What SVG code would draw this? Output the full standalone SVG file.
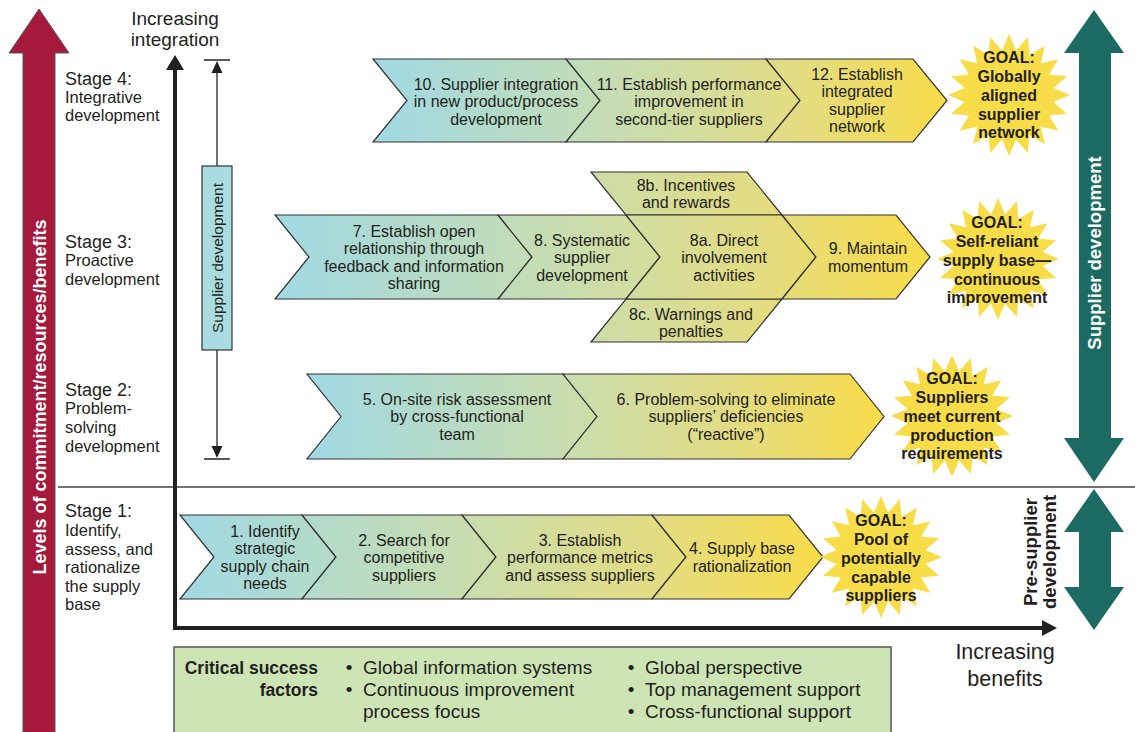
<svg xmlns="http://www.w3.org/2000/svg" width="1135" height="732" viewBox="0 0 1135 732">
<style>
.t{font-family:"Liberation Sans",Arial,sans-serif;font-size:16px;fill:#231F20;text-anchor:middle}
.st{font-family:"Liberation Sans",Arial,sans-serif;font-size:18px;fill:#231F20}
.sl{font-family:"Liberation Sans",Arial,sans-serif;font-size:16.5px;fill:#231F20}
.g{font-family:"Liberation Sans",Arial,sans-serif;font-size:16px;font-weight:bold;fill:#231F20;text-anchor:middle}
.chev{stroke:#333;stroke-width:1.2;stroke-linejoin:miter}
.csf{font-family:"Liberation Sans",Arial,sans-serif;font-size:19px;fill:#231F20}
.csb{font-family:"Liberation Sans",Arial,sans-serif;font-size:17.5px;font-weight:bold;fill:#231F20;text-anchor:end}
.ax{fill:none;stroke:#231F20;stroke-width:4}
.thin{stroke:#444;stroke-width:1.5;fill:none}
.star{fill:#F8DC48}
</style>
<defs>
<linearGradient id="gb">
<stop offset="0" stop-color="#A0D9E4"/>
<stop offset="0.45" stop-color="#C9DDAE"/>
<stop offset="0.75" stop-color="#E4DC80"/>
<stop offset="1" stop-color="#F9DC48"/>
</linearGradient>
<linearGradient id="g4" href="#gb" gradientUnits="userSpaceOnUse" x1="373" y1="0" x2="947" y2="0"/>
<linearGradient id="g3" href="#gb" gradientUnits="userSpaceOnUse" x1="275" y1="0" x2="930" y2="0"/>
<linearGradient id="g2" href="#gb" gradientUnits="userSpaceOnUse" x1="307" y1="0" x2="884" y2="0"/>
<linearGradient id="g1" href="#gb" gradientUnits="userSpaceOnUse" x1="180" y1="0" x2="823" y2="0"/>
<polygon id="starShape" points="61,0 44.45,7.04 58.02,18.85 40.1,20.43 49.35,35.86 31.82,31.82 35.86,49.35 20.43,40.1 18.85,58.02 7.04,44.45 0,61 -7.04,44.45 -18.85,58.02 -20.43,40.1 -35.86,49.35 -31.82,31.82 -49.35,35.86 -40.1,20.43 -58.02,18.85 -44.45,7.04 -61,0 -44.45,-7.04 -58.02,-18.85 -40.1,-20.43 -49.35,-35.86 -31.82,-31.82 -35.86,-49.35 -20.43,-40.1 -18.85,-58.02 -7.04,-44.45 0,-61 7.04,-44.45 18.85,-58.02 20.43,-40.1 35.86,-49.35 31.82,-31.82 49.35,-35.86 40.1,-20.43 58.02,-18.85 44.45,-7.04"/>
</defs>

<!-- Left red arrow -->
<g id="commitment-arrow">
<polygon points="39,9 69,53 55,53 55,740 23,740 23,53 9,53" fill="#A5193C" stroke="#555" stroke-width="1"/>
<text transform="translate(45.5,397) rotate(-90)" font-family="Liberation Sans,Arial,sans-serif" font-size="18" font-weight="bold" fill="#FFFFFF" text-anchor="middle">Levels of commitment/resources/benefits</text>
</g>

<!-- Right green arrows -->
<g id="supplier-development-arrow">
<polygon points="1094,10 1124,53 1111,53 1111,438 1124,438 1094,482 1064,438 1079,438 1079,53 1064,53" fill="#1B6B63"/>
<text transform="translate(1101,253) rotate(-90)" font-family="Liberation Sans,Arial,sans-serif" font-size="18.5" font-weight="bold" fill="#FFFFFF" text-anchor="middle">Supplier development</text>
</g>
<g id="pre-supplier-arrow">
<polygon points="1094,489 1124,532 1111,532 1111,587 1124,587 1094,630 1064,587 1079,587 1079,532 1064,532" fill="#1B6B63"/>
<text transform="translate(1037,552) rotate(-90)" font-family="Liberation Sans,Arial,sans-serif" font-size="18.5" font-weight="bold" fill="#231F20" text-anchor="middle">Pre-supplier</text>
<text transform="translate(1056,552) rotate(-90)" font-family="Liberation Sans,Arial,sans-serif" font-size="18.5" font-weight="bold" fill="#231F20" text-anchor="middle">development</text>
</g>

<!-- Stage labels -->
<g id="stage-labels">
<text class="st" x="65" y="85">Stage 4:</text>
<text class="sl" x="65" y="103">Integrative</text>
<text class="sl" x="65" y="121">development</text>
<text class="st" x="65" y="248">Stage 3:</text>
<text class="sl" x="65" y="266">Proactive</text>
<text class="sl" x="65" y="285">development</text>
<text class="st" x="65" y="396">Stage 2:</text>
<text class="sl" x="65" y="414">Problem-</text>
<text class="sl" x="65" y="433">solving</text>
<text class="sl" x="65" y="452">development</text>
<text class="st" x="65" y="517">Stage 1:</text>
<text class="sl" x="65" y="536">Identify,</text>
<text class="sl" x="65" y="555">assess, and</text>
<text class="sl" x="65" y="573">rationalize</text>
<text class="sl" x="65" y="592">the supply</text>
<text class="sl" x="65" y="610">base</text>
</g>

<g id="axis-labels">
<text x="175" y="25" font-family="Liberation Sans,Arial,sans-serif" font-size="19" fill="#231F20" text-anchor="middle">Increasing</text>
<text x="175" y="46" font-family="Liberation Sans,Arial,sans-serif" font-size="19" fill="#231F20" text-anchor="middle">integration</text>
<text x="1005" y="659" font-family="Liberation Sans,Arial,sans-serif" font-size="21.5" fill="#231F20" text-anchor="middle">Increasing</text>
<text x="1005" y="686" font-family="Liberation Sans,Arial,sans-serif" font-size="21.5" fill="#231F20" text-anchor="middle">benefits</text>
</g>

<!-- Connectors -->
<g id="connectors">
<line class="thin" x1="58" y1="487" x2="1135" y2="487"/>
<path class="ax" d="M175,68 V628 H1043"/>
<polygon points="175,55 166,70 184,70" fill="#231F20"/>
<polygon points="1057,628 1042,620 1042,636" fill="#231F20"/>
<line x1="217" y1="72" x2="217" y2="166" stroke="#444" stroke-width="1.5"/>
<polygon points="217,61 211.5,73 222.5,73" fill="#231F20"/>
<line x1="204" y1="60" x2="230" y2="60" stroke="#231F20" stroke-width="1.5"/>
<line x1="217" y1="350" x2="217" y2="447" stroke="#444" stroke-width="1.5"/>
<polygon points="217,458 211.5,446 222.5,446" fill="#231F20"/>
<line x1="204" y1="459" x2="230" y2="459" stroke="#231F20" stroke-width="1.5"/>
</g>

<g id="supplier-development-box">
<rect x="202" y="166" width="30" height="184" fill="#A8DCE0" stroke="#333" stroke-width="1.2"/>
<text transform="translate(222.5,258) rotate(-90)" font-family="Liberation Sans,Arial,sans-serif" font-size="15.5" fill="#231F20" text-anchor="middle">Supplier development</text>
</g>

<!-- Stage 4 -->
<g id="step10">
<polygon class="chev" fill="url(#g4)" points="373,59 566,59 600,100.5 566,142 373,142 407,100.5"/>
<text class="t" x="496" y="89.5">10. Supplier integration</text>
<text class="t" x="496" y="107">in new product/process</text>
<text class="t" x="496" y="124.5">development</text>
</g>
<g id="step11">
<polygon class="chev" fill="url(#g4)" points="566,59 766,59 800,100.5 766,142 566,142 600,100.5"/>
<text class="t" x="689" y="89.5">11. Establish performance</text>
<text class="t" x="689" y="107">improvement in</text>
<text class="t" x="689" y="124.5">second-tier suppliers</text>
</g>
<g id="step12">
<polygon class="chev" fill="url(#g4)" points="766,59 913,59 947,100.5 913,142 766,142 800,100.5"/>
<text class="t" x="857" y="79.5">12. Establish</text>
<text class="t" x="857" y="97">integrated</text>
<text class="t" x="857" y="114.5">supplier</text>
<text class="t" x="857" y="132">network</text>
</g>

<!-- Stage 3 -->
<g id="step7">
<polygon class="chev" fill="url(#g3)" points="275,215 498,215 532,257 498,299 275,299 309,257"/>
<text class="t" x="414" y="236.5">7. Establish open</text>
<text class="t" x="414" y="254">relationship through</text>
<text class="t" x="414" y="271.5">feedback and information</text>
<text class="t" x="414" y="289">sharing</text>
</g>
<g id="step8">
<polygon class="chev" fill="url(#g3)" points="498,215 626,215 660,257 626,299 498,299 532,257"/>
<text class="t" x="582" y="245.5">8. Systematic</text>
<text class="t" x="582" y="263">supplier</text>
<text class="t" x="582" y="280.5">development</text>
</g>
<g id="step8b">
<polygon class="chev" fill="url(#g3)" points="591,172 747,172 782,215 626,215"/>
<text class="t" x="686" y="190.5">8b. Incentives</text>
<text class="t" x="686" y="207.5">and rewards</text>
</g>
<g id="step8c">
<polygon class="chev" fill="url(#g3)" points="626,299 782,299 747,342 591,342"/>
<text class="t" x="691" y="319.5">8c. Warnings and</text>
<text class="t" x="691" y="336.5">penalties</text>
</g>
<g id="step8a">
<polygon class="chev" fill="url(#g3)" points="626,215 782,215 816,257 782,299 626,299 660,257"/>
<text class="t" x="724" y="245.5">8a. Direct</text>
<text class="t" x="724" y="263">involvement</text>
<text class="t" x="724" y="280.5">activities</text>
</g>
<g id="step9">
<polygon class="chev" fill="url(#g3)" points="782,215 896,215 930,257 896,299 782,299 816,257"/>
<text class="t" x="868" y="253.5">9. Maintain</text>
<text class="t" x="868" y="271.5">momentum</text>
</g>

<!-- Stage 2 -->
<g id="step5">
<polygon class="chev" fill="url(#g2)" points="307,374 563,374 597,416.5 563,459 307,459 341,416.5"/>
<text class="t" x="457" y="404.5">5. On-site risk assessment</text>
<text class="t" x="457" y="422">by cross-functional</text>
<text class="t" x="457" y="439.5">team</text>
</g>
<g id="step6">
<polygon class="chev" fill="url(#g2)" points="563,374 850,374 884,416.5 850,459 563,459 597,416.5"/>
<text class="t" x="726" y="404.5">6. Problem-solving to eliminate</text>
<text class="t" x="726" y="422">suppliers’ deficiencies</text>
<text class="t" x="726" y="439.5">(“reactive”)</text>
</g>

<!-- Stage 1 -->
<g id="step1">
<polygon class="chev" fill="url(#g1)" points="180,515 302,515 336,557 302,599 180,599 214,557"/>
<text class="t" x="265" y="536.5">1. Identify</text>
<text class="t" x="265" y="554">strategic</text>
<text class="t" x="265" y="571.5">supply chain</text>
<text class="t" x="265" y="589">needs</text>
</g>
<g id="step2">
<polygon class="chev" fill="url(#g1)" points="302,515 462,515 496,557 462,599 302,599 336,557"/>
<text class="t" x="404" y="545.5">2. Search for</text>
<text class="t" x="404" y="563">competitive</text>
<text class="t" x="404" y="580.5">suppliers</text>
</g>
<g id="step3">
<polygon class="chev" fill="url(#g1)" points="462,515 652,515 686,557 652,599 462,599 496,557"/>
<text class="t" x="580" y="545.5">3. Establish</text>
<text class="t" x="580" y="563">performance metrics</text>
<text class="t" x="580" y="580.5">and assess suppliers</text>
</g>
<g id="step4">
<polygon class="chev" fill="url(#g1)" points="652,515 789,515 823,557 789,599 652,599 686,557"/>
<text class="t" x="742" y="554">4. Supply base</text>
<text class="t" x="742" y="571.5">rationalization</text>
</g>

<!-- Goals -->
<g id="goal4">
<use href="#starShape" class="star" transform="translate(1009,95)"/>
<text class="g" x="1009" y="63">GOAL:</text>
<text class="g" x="1009" y="82">Globally</text>
<text class="g" x="1009" y="100.5">aligned</text>
<text class="g" x="1009" y="119.5">supplier</text>
<text class="g" x="1009" y="138">network</text>
</g>
<g id="goal3">
<use href="#starShape" class="star" transform="translate(998,259)"/>
<text class="g" x="997" y="228">GOAL:</text>
<text class="g" x="997" y="247">Self-reliant</text>
<text class="g" x="997" y="266">supply base—</text>
<text class="g" x="997" y="285">continuous</text>
<text class="g" x="997" y="303">improvement</text>
</g>
<g id="goal2">
<use href="#starShape" class="star" transform="translate(952,416)"/>
<text class="g" x="952" y="384">GOAL:</text>
<text class="g" x="952" y="403">Suppliers</text>
<text class="g" x="952" y="422">meet current</text>
<text class="g" x="952" y="441">production</text>
<text class="g" x="952" y="459">requirements</text>
</g>
<g id="goal1">
<use href="#starShape" class="star" transform="translate(881,557)"/>
<text class="g" x="881" y="526">GOAL:</text>
<text class="g" x="881" y="545">Pool of</text>
<text class="g" x="881" y="564">potentially</text>
<text class="g" x="881" y="583">capable</text>
<text class="g" x="881" y="601">suppliers</text>
</g>

<!-- Critical success factors -->
<g id="critical-success-factors">
<rect x="174" y="647" width="717" height="100" fill="#CDE4B5" stroke="#555" stroke-width="1.5"/>
<text class="csb" x="318" y="674">Critical success</text>
<text class="csb" x="318" y="696">factors</text>
<text class="csf" x="349" y="674" text-anchor="middle">•</text>
<text class="csf" x="363" y="674">Global information systems</text>
<text class="csf" x="349" y="696" text-anchor="middle">•</text>
<text class="csf" x="363" y="696">Continuous improvement</text>
<text class="csf" x="363" y="718">process focus</text>
<text class="csf" x="631" y="674" text-anchor="middle">•</text>
<text class="csf" x="645" y="674">Global perspective</text>
<text class="csf" x="631" y="696" text-anchor="middle">•</text>
<text class="csf" x="645" y="696">Top management support</text>
<text class="csf" x="631" y="718" text-anchor="middle">•</text>
<text class="csf" x="645" y="718">Cross-functional support</text>
</g>
</svg>
